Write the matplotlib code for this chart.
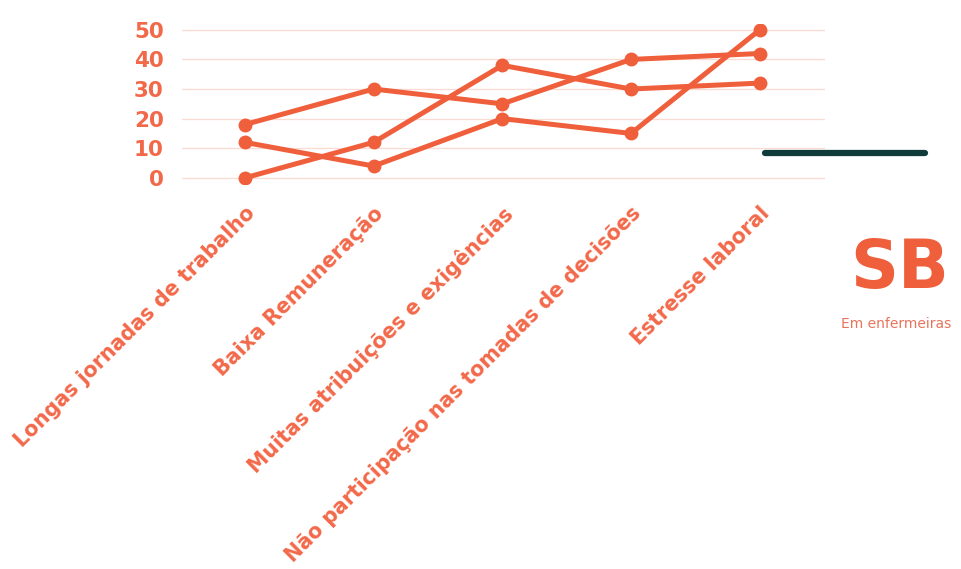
import matplotlib.pyplot as plt
from matplotlib.lines import Line2D

# data
categories = ['Longas jornadas de trabalho', 'Baixa Remuneração',
              'Muitas atribuições e exigências',
              'Não participação nas tomadas de decisões', 'Estresse laboral']
serie_a = [18, 30, 25, 40, 42]
serie_b = [12, 4, 20, 15, 50]
serie_c = [0, 12, 38, 30, 32]
yticks = [0, 10, 20, 30, 40, 50]

orange = '#EF5F3C'
text_orange = '#F2694A'
grid_col = '#FADCD5'

fig = plt.figure(figsize=(9.62, 5.69), dpi=100)
ax = fig.add_axes([0.189, 0.677, 0.669, 0.281])

x = range(len(categories))
for s in (serie_a, serie_b, serie_c):
    ax.plot(x, s, color=orange, lw=3.6, marker='o', ms=9, solid_capstyle='round')

ax.set_xlim(-0.49, 4.51)
ax.set_ylim(-2, 52)
ax.set_yticks(yticks)
ax.set_yticklabels([str(v) for v in yticks], fontsize=15.5, fontweight='bold', color=text_orange)
ax.set_xticks(list(x))
ax.set_xticklabels(categories, rotation=45, ha='right', va='top', rotation_mode='anchor',
                   fontsize=14.8, fontweight='bold', color=text_orange)
ax.tick_params(axis='both', length=0)
ax.tick_params(axis='y', pad=13)
ax.tick_params(axis='x', pad=14)
ax.grid(axis='y', color=grid_col, lw=1)
ax.set_axisbelow(True)
for sp in ax.spines.values():
    sp.set_visible(False)

# dark bar on the right
fig.add_artist(Line2D([0.795, 0.962], [0.731, 0.731], color='#0F3B3A', lw=4.5,
                      solid_capstyle='round', transform=fig.transFigure))

fig.text(0.935, 0.527, 'SB', fontsize=48, fontweight='heavy', color=orange,
         ha='center', va='center')
fig.text(0.932, 0.431, 'Em enfermeiras', fontsize=10, color='#E8735C',
         ha='center', va='center')

fig.savefig('out.png', dpi=100)
